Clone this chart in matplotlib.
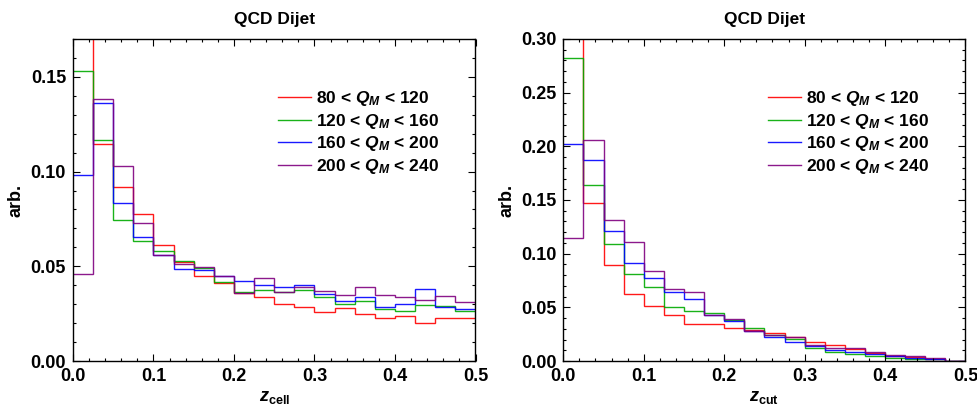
import numpy as np
import matplotlib
matplotlib.use("Agg")
import matplotlib.pyplot as plt
from matplotlib.ticker import MultipleLocator, FormatStrFormatter

plt.rcParams['font.family'] = ['Liberation Sans', 'DejaVu Sans']
plt.rcParams['font.weight'] = 'bold'
plt.rcParams['mathtext.fontset'] = 'custom'
plt.rcParams['mathtext.rm'] = 'Liberation Sans:bold'
plt.rcParams['mathtext.it'] = 'Liberation Sans:italic:bold'
plt.rcParams['mathtext.bf'] = 'Liberation Sans:bold'

bin_edges = [0.0, 0.025, 0.05, 0.075, 0.1, 0.125, 0.15, 0.175, 0.2, 0.225, 0.25,
             0.275, 0.3, 0.325, 0.35, 0.375, 0.4, 0.425, 0.45, 0.475, 0.5]

labels = [r"80 < $Q_M$ < 120", r"120 < $Q_M$ < 160",
          r"160 < $Q_M$ < 200", r"200 < $Q_M$ < 240"]
colors = ['#ff0000', '#00aa00', '#0000ff', '#800080']

# z_cell panel
zcell_80_120 = [0.198, 0.1146, 0.0917, 0.0775, 0.0612, 0.0521, 0.0450, 0.0410, 0.0357, 0.0340,
                0.0299, 0.0287, 0.0257, 0.0278, 0.0247, 0.0229, 0.0238, 0.0201, 0.0229, 0.0225]
zcell_120_160 = [0.1533, 0.1167, 0.0746, 0.0635, 0.0583, 0.0530, 0.0490, 0.0415, 0.0363, 0.0375,
                 0.0366, 0.0375, 0.0340, 0.0299, 0.0317, 0.0273, 0.0264, 0.0294, 0.0290, 0.0264]
zcell_160_200 = [0.0982, 0.1364, 0.0836, 0.0656, 0.0561, 0.0484, 0.0480, 0.0450, 0.0424, 0.0401,
                 0.0392, 0.0401, 0.0354, 0.0317, 0.0340, 0.0287, 0.0299, 0.0378, 0.0287, 0.0273]
zcell_200_240 = [0.0458, 0.1383, 0.1030, 0.0730, 0.0561, 0.0512, 0.0498, 0.0450, 0.0361, 0.0437,
                 0.0366, 0.0389, 0.0371, 0.0348, 0.0389, 0.0348, 0.0340, 0.0322, 0.0343, 0.0312]

# z_cut panel
zcut_80_120 = [0.365, 0.1472, 0.0895, 0.0628, 0.0516, 0.0432, 0.0342, 0.0342, 0.0311, 0.0289,
               0.0258, 0.0221, 0.0180, 0.0149, 0.0109, 0.0078, 0.0050, 0.0034, 0.0016, 0.0003]
zcut_120_160 = [0.2824, 0.1637, 0.1094, 0.0808, 0.0690, 0.0506, 0.0466, 0.0444, 0.0382, 0.0304,
                0.0242, 0.0202, 0.0124, 0.0087, 0.0065, 0.0047, 0.0031, 0.0022, 0.0016, 0.0003]
zcut_160_200 = [0.2025, 0.1870, 0.1215, 0.0910, 0.0771, 0.0640, 0.0578, 0.0425, 0.0373, 0.0283,
                0.0227, 0.0174, 0.0143, 0.0103, 0.0087, 0.0065, 0.0047, 0.0031, 0.0022, 0.0003]
zcut_200_240 = [0.1143, 0.2062, 0.1311, 0.1112, 0.0836, 0.0674, 0.0646, 0.0429, 0.0394, 0.0283,
                0.0242, 0.0221, 0.0149, 0.0118, 0.0118, 0.0087, 0.0056, 0.0047, 0.0031, 0.0003]

panels = [
    dict(series=[zcell_80_120, zcell_120_160, zcell_160_200, zcell_200_240],
         ylim=0.17, xlabel=r"$z_{\mathrm{cell}}$", rect=[73/978, 48/409, 402.5/978, 322/409]),
    dict(series=[zcut_80_120, zcut_120_160, zcut_160_200, zcut_200_240],
         ylim=0.30, xlabel=r"$z_{\mathrm{cut}}$", rect=[563.3/978, 48/409, 402.2/978, 322/409]),
]

fig = plt.figure(figsize=(9.78, 4.09), dpi=100)
for p in panels:
    ax = fig.add_axes(p['rect'])
    for vals, c, lab in zip(p['series'], colors, labels):
        ax.stairs(vals, bin_edges, baseline=None, color=c, lw=1.0, alpha=0.9, label=lab)
    ax.set_xlim(0, 0.5)
    ax.set_ylim(0, p['ylim'])
    ax.xaxis.set_major_locator(MultipleLocator(0.1))
    ax.xaxis.set_minor_locator(MultipleLocator(0.02))
    ax.yaxis.set_major_locator(MultipleLocator(0.05))
    ax.yaxis.set_minor_locator(MultipleLocator(0.01))
    ax.xaxis.set_major_formatter(FormatStrFormatter('%.1f'))
    ax.yaxis.set_major_formatter(FormatStrFormatter('%.2f'))
    ax.tick_params(which='both', direction='in', top=True, right=True, width=0.8)
    ax.tick_params(which='major', length=5, labelsize=13, pad=5)
    ax.tick_params(which='minor', length=2.5)
    for lbl in ax.get_xticklabels() + ax.get_yticklabels():
        lbl.set_fontweight('bold')
    for s in ax.spines.values():
        s.set_linewidth(1.0)
    ax.set_title("QCD Dijet", fontsize=12.5, fontweight='bold', pad=11)
    ax.set_ylabel("arb.", fontsize=13, fontweight='bold', labelpad=4)
    ax.set_xlabel(p['xlabel'], fontsize=13, labelpad=3)
    ax.legend(loc='upper left', bbox_to_anchor=(0.492, 0.865), frameon=False,
              fontsize=12.5, handlelength=1.9, handletextpad=0.3, labelspacing=0.2,
              borderaxespad=0)

fig.savefig("out.png", dpi=100)
